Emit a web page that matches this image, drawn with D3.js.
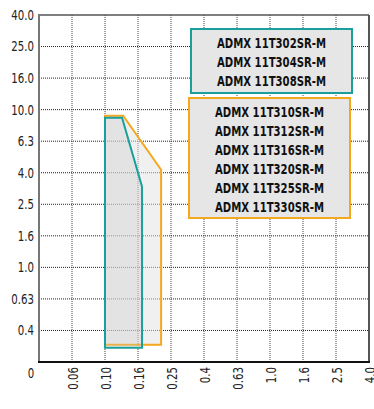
<!DOCTYPE html>
<html><head><meta charset="utf-8">
<script src="https://cdn.jsdelivr.net/npm/d3@7"></script>
<style>
html,body{margin:0;padding:0;background:#fff;}
svg{display:block;font-family:"DejaVu Sans Condensed","Liberation Sans Narrow",sans-serif;}
</style></head>
<body>
<svg id="c" width="374" height="409"></svg>
<script>
// tick values (categorical-equal spacing)
const xTicks = [0, 0.06, 0.10, 0.16, 0.25, 0.4, 0.63, 1.0, 1.6, 2.5, 4.0];
const xTickLabels = ["0", "0.06", "0.10", "0.16", "0.25", "0.4", "0.63", "1.0", "1.6", "2.5", "4.0"];
const yTicks = [0, 0.4, 0.63, 1.0, 1.6, 2.5, 4.0, 6.3, 10.0, 16.0, 25.0, 40.0];
const yTickLabels = ["0", "0.4", "0.63", "1.0", "1.6", "2.5", "4.0", "6.3", "10.0", "16.0", "25.0", "40.0"];

// region outlines (x = feed, y = depth)
const tealRegion = [[0.10, 0.18], [0.10, 9.05], [0.131, 9.05], [0.171, 3.34], [0.171, 0.18]];
const orangeRegion = [[0.10, 0.22], [0.10, 9.28], [0.133, 9.28], [0.223, 4.22], [0.223, 0.22]];

const tealNames = ["ADMX 11T302SR-M", "ADMX 11T304SR-M", "ADMX 11T308SR-M"];
const orangeNames = ["ADMX 11T310SR-M", "ADMX 11T312SR-M", "ADMX 11T316SR-M", "ADMX 11T320SR-M", "ADMX 11T325SR-M", "ADMX 11T330SR-M"];

const TEAL = "#1a9f9a", ORANGE = "#f5a81e";

const svg = d3.select("#c");
const m = {l: 39, r: 5, t: 15, b: 47};
const W = 374, H = 409;
const x0 = m.l, x1 = W - m.r, y0 = H - m.b, y1 = m.t;
const SX = 0.84; // horizontal squeeze for a condensed look

const x = d3.scaleLinear().domain(xTicks)
  .range(xTicks.map((d, i) => x0 + i * (x1 - x0) / (xTicks.length - 1)));
const y = d3.scaleLinear().domain(yTicks)
  .range(yTicks.map((d, i) => y0 - i * (y0 - y1) / (yTicks.length - 1)));

// grid
const g = svg.append("g");
g.selectAll("line.h").data(yTicks.slice(1, -1)).enter().append("line")
  .attr("x1", x0).attr("x2", x1).attr("y1", d => y(d)).attr("y2", d => y(d))
  .attr("stroke", "#222").attr("stroke-width", 1).attr("stroke-dasharray", "1,1");
g.selectAll("line.v").data(xTicks.slice(1, -1)).enter().append("line")
  .attr("y1", y1).attr("y2", y0).attr("x1", d => x(d)).attr("x2", d => x(d))
  .attr("stroke", "#444").attr("stroke-width", 1).attr("stroke-dasharray", "1,1");

// regions
const line = d3.line().x(d => x(d[0])).y(d => y(d[1])).curve(d3.curveLinearClosed);
svg.append("path").attr("d", line(orangeRegion))
  .attr("fill", "rgba(225,225,225,0.5)").attr("stroke", ORANGE).attr("stroke-width", 2);
svg.append("path").attr("d", line(tealRegion))
  .attr("fill", "rgba(200,200,200,0.3)").attr("stroke", TEAL).attr("stroke-width", 2);

// frame
svg.append("line").attr("x1", x0).attr("x2", x1).attr("y1", y1).attr("y2", y1).attr("stroke", "#555").attr("stroke-width", 1.5);
svg.append("line").attr("x1", x1).attr("x2", x1).attr("y1", y1).attr("y2", y0).attr("stroke", "#555").attr("stroke-width", 2);
svg.append("line").attr("x1", x0).attr("x2", x0).attr("y1", y1 - 1).attr("y2", y0 + 1).attr("stroke", "#777").attr("stroke-width", 2);
svg.append("line").attr("x1", x0 - 1).attr("x2", x1 + 1).attr("y1", y0).attr("y2", y0).attr("stroke", "#111").attr("stroke-width", 2);

// y labels
svg.selectAll("text.yl").data(yTicks.slice(1)).enter().append("text")
  .attr("transform", d => `translate(${x0 - 5},${y(d)}) scale(${SX},1)`)
  .attr("dy", "0.36em")
  .attr("text-anchor", "end").attr("font-size", 13.5).attr("fill", "#222")
  .text((d, i) => yTickLabels[i + 1]);
// zero label
svg.append("text").attr("transform", `translate(31,378) scale(${SX},1)`).attr("text-anchor", "middle")
  .attr("font-size", 13.5).attr("fill", "#222").text(xTickLabels[0]);
// x labels rotated
svg.selectAll("text.xl").data(xTicks.slice(1)).enter().append("text")
  .attr("transform", d => `translate(${x(d) + 1},${y0 + 5}) rotate(-90) scale(${SX},1)`)
  .attr("dy", "0.36em").attr("text-anchor", "end")
  .attr("font-size", 13.5).attr("fill", "#222")
  .text((d, i) => xTickLabels[i + 1]);

// legend boxes
function legendBox(names, color, bx, by, bw, bh, cy0) {
  svg.append("rect").attr("x", bx).attr("y", by).attr("width", bw).attr("height", bh)
    .attr("fill", "#e6e6e6").attr("stroke", color).attr("stroke-width", 2);
  svg.selectAll(null).data(names).enter().append("text")
    .attr("x", bx + bw / 2 - 23).attr("y", (d, i) => cy0 + i * 19).attr("dy", "0.36em")
    .attr("font-size", 14).attr("font-weight", "bold")
    .attr("textLength", 109).attr("lengthAdjust", "spacingAndGlyphs")
    .attr("x", bx + bw / 2 - 54.5)
    .attr("fill", "#111").text(d => d);
}
legendBox(tealNames, TEAL, 191, 29, 161, 64, 43);
legendBox(orangeNames, ORANGE, 189, 98, 161, 120, 112);
</script>
</body></html>
